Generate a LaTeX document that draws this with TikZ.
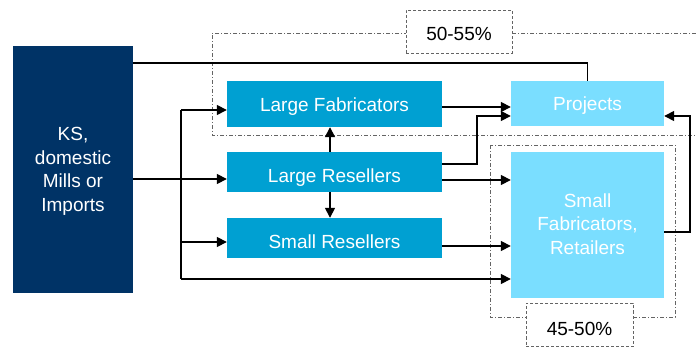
\documentclass[tikz,border=0pt]{standalone}
\usepackage{fontspec}
\setmainfont{Liberation Sans}
\usetikzlibrary{arrows.meta}
\definecolor{ksblue}{RGB}{0,51,102}
\definecolor{midblue}{RGB}{0,160,210}
\definecolor{lightblue}{RGB}{122,222,255}
\definecolor{dashgray}{RGB}{100,100,100}
\begin{document}
\begin{tikzpicture}[x=1pt,y=-1pt,
  every node/.style={inner sep=0pt},
  txt/.style={font=\fontsize{19}{23.5}\selectfont, anchor=base},
  srcbox/.style={fill=ksblue, minimum width=120pt, minimum height=247pt},
  midbox/.style={fill=midblue, minimum width=215pt},
  lightbox/.style={fill=lightblue, minimum width=153pt},
  region/.style={draw=dashgray, line width=0.9pt, dash pattern=on 4pt off 2pt on 1pt off 2pt},
  pctbox/.style={draw=dashgray, line width=0.9pt, dash pattern=on 3pt off 2pt, fill=white},
  conn/.style={line width=1.6pt, black},
  arr/.style={conn, -{Triangle[length=10pt,width=10pt]}}]
\useasboundingbox (0,0) rectangle (696,347);
% regions
\draw[region] (696,33) -- (212,33) -- (212,135) -- (696,135);
\draw[region] (490,145) rectangle (675,317);
% boxes
\node[srcbox] (ks) at (73,169.5) {};
\node[midbox, minimum height=46pt] (lf) at (334.5,104) {};
\node[midbox, minimum height=40pt] (lr) at (334.5,172) {};
\node[midbox, minimum height=40pt] (sr) at (334.5,238) {};
\node[lightbox, minimum height=45pt] (pj) at (587.5,103.5) {};
\node[lightbox, minimum height=146pt] (sf) at (587.5,225) {};
\node[pctbox, minimum width=106pt, minimum height=43pt] (p1) at (459,31.5) {};
\node[pctbox, minimum width=107pt, minimum height=43pt] (p2) at (579.5,325) {};
% texts
\node[txt, text=white] (ks1) at (ks.center |- 0,141) {KS,};
\node[txt, text=white] (ks2) at (ks.center |- 0,164.5) {domestic};
\node[txt, text=white] (ks3) at (ks.center |- 0,188) {Mills or};
\node[txt, text=white] (ks4) at (ks.center |- 0,211.5) {Imports};
\node[txt, text=white] (lft) at (lf.center |- 0,112) {Large Fabricators};
\node[txt, text=white] (lrt) at (lr.center |- 0,183) {Large Resellers};
\node[txt, text=white] (srt) at (sr.center |- 0,249) {Small Resellers};
\node[txt, text=white] (pjt) at (pj.center |- 0,111) {Projects};
\node[txt, text=white] (sf1) at (sf.center |- 0,207.5) {Small};
\node[txt, text=white] (sf2) at (sf.center |- 0,231) {Fabricators,};
\node[txt, text=white] (sf3) at (sf.center |- 0,254.5) {Retailers};
\node[txt, text=black] (p1t) at (p1.center |- 0,41) {50-55\%};
\node[txt, text=black] (p2t) at (p2.center |- 0,335) {45-50\%};
% connectors
\coordinate (jt) at (181,110);
\coordinate (jm) at (181,179);
\coordinate (jb) at (181,279);
\draw[conn] (ks.east |- 0,63) -| (pj.north);
\draw[conn, line width=2.6pt] (ks.east |- jm) -- (jm);
\draw[arr] (jm) -- (lr.west |- jm);
\draw[conn] (jt) -- (jb);
\draw[arr] (jt) -- (lf.west |- jt);
\draw[arr] (181,242) -- (sr.west |- 0,242);
\draw[arr] (jb) -- (sf.west |- jb);
\draw[arr] (lf.east |- 0,107) -- (pj.west |- 0,107);
\draw[arr] (lr.east |- 0,164) -- (477,164) -- (477,116) -- (pj.west |- 0,116);
\draw[arr] (lr.east |- 0,180) -- (sf.west |- 0,180);
\draw[arr] (sr.east |- 0,246) -- (sf.west |- 0,246);
\draw[arr] (lr.north -| 330,0) -- (lf.south -| 330,0);
\draw[arr] (lr.south -| 330,0) -- (sr.north -| 330,0);
\draw[arr] (sf.east |- 0,232) -- (690,232) -- (690,116) -- (pj.east |- 0,116);
\end{tikzpicture}
\end{document}
